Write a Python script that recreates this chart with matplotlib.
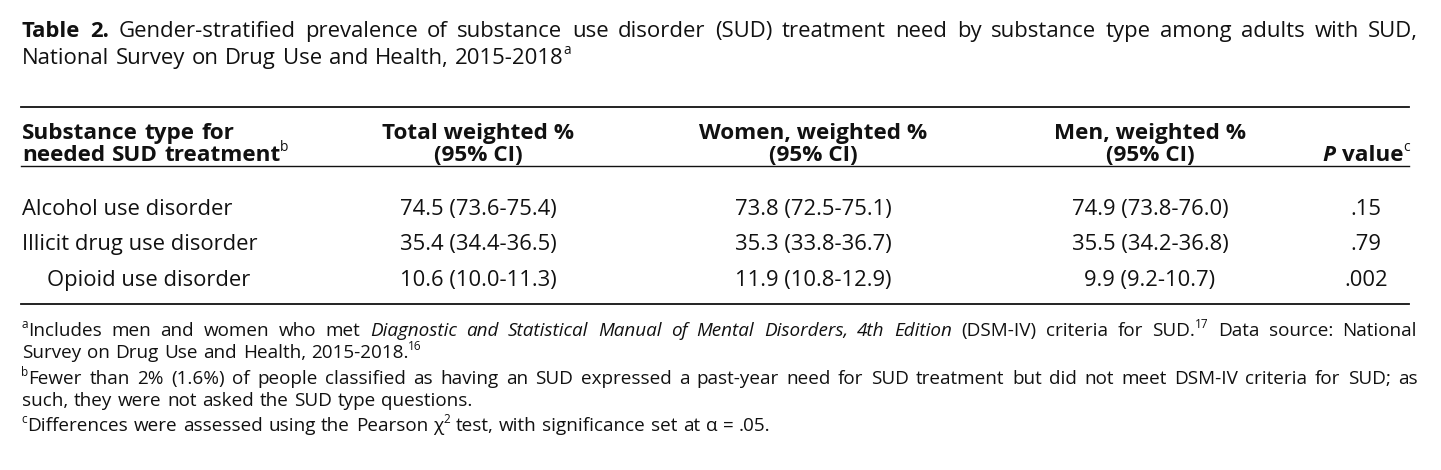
import matplotlib
matplotlib.use("Agg")
import matplotlib.pyplot as plt

# ---------------- data ----------------
categories = ["Alcohol use disorder", "Illicit drug use disorder", "Opioid use disorder"]
indent_level = [0, 0, 1]
total_pct = [74.5, 35.4, 10.6]
total_lo = [73.6, 34.4, 10.0]
total_hi = [75.4, 36.5, 11.3]
women_pct = [73.8, 35.3, 11.9]
women_lo = [72.5, 33.8, 10.8]
women_hi = [75.1, 36.7, 12.9]
men_pct = [74.9, 35.5, 9.9]
men_lo = [73.8, 34.2, 9.2]
men_hi = [76.0, 36.8, 10.7]
p_values = [".15", ".79", ".002"]

W, H, DPI = 1441, 470, 100
FONT = "Open Sans"
fig = plt.figure(figsize=(W / DPI, H / DPI), dpi=DPI)
fig.patch.set_facecolor("white")
renderer = fig.canvas.get_renderer()

def fx(x):
    return x / W

def fy(y):
    return 1 - y / H

def mk(text, x, y, size, weight="normal", style="normal", ha="left"):
    return fig.text(fx(x), fy(y), text, fontsize=size, fontweight=weight,
                    fontstyle=style, family=FONT, ha=ha, va="baseline",
                    color="#111111")

def width_of(t):
    return t.get_window_extent(renderer=renderer).width

def space_width(size):
    a = mk("a a", 0, 0, size)
    b = mk("aa", 0, 0, size)
    w = width_of(a) - width_of(b)
    a.remove()
    b.remove()
    return w

def runs_draw(runs, x, y, size, justify_to=None, right_to=None):
    """runs: list of (text, kind) kind in 'r','b','i','bi','sup'"""
    tokens = []
    for text, kind in runs:
        if kind == "sup":
            tokens.append((text, kind, False))
            continue
        parts = text.split(" ")
        for k, p in enumerate(parts):
            if k > 0:
                tokens.append((" ", kind, True))
            if p:
                tokens.append((p, kind, False))
    objs = []
    for text, kind, is_space in tokens:
        if is_space:
            objs.append(("space", None, kind))
            continue
        s = size * 0.62 if kind == "sup" else size
        weight = "bold" if "b" in kind else "normal"
        style = "italic" if "i" in kind else "normal"
        yy = y - (size * 0.6 if kind == "sup" else 0)
        t = mk(text, 0, yy, s, weight, style)
        objs.append(("word", t, kind))
    sw_nat = space_width(size) * 1.15
    words_w = sum(width_of(o[1]) for o in objs if o[0] == "word")
    n_space = sum(1 for o in objs if o[0] == "space")
    if justify_to is not None and n_space > 0:
        sw = (justify_to - x - words_w) / n_space
    else:
        sw = sw_nat
    if right_to is not None:
        x = right_to - (words_w + n_space * sw)
    cx = x
    for kind, t, k in objs:
        if kind == "space":
            cx += sw
        else:
            if k == "sup":
                cx -= 0.5
            t.set_x(fx(cx))
            cx += width_of(t)
    return cx

# ---------------- title ----------------
TS = 15.9
runs_draw([("Table 2.", "b"),
           (" Gender-stratified prevalence of substance use disorder (SUD) treatment need by substance type among adults with SUD,", "r")],
          22, 37, TS, justify_to=1418)
runs_draw([("National Survey on Drug Use and Health, 2015-2018", "r"), ("a", "sup")], 22, 64, TS)

# ---------------- rules ----------------
L, R = 21, 1409
for yy, lw in [(107, 1.3), (166, 1.0), (304, 1.3)]:
    fig.add_artist(plt.Line2D([fx(L), fx(R)], [fy(yy), fy(yy)], color="#111111", lw=lw))

# ---------------- header ----------------
HS = 16.2
col_total, col_women, col_men, col_p = 478, 813, 1150, 1366
runs_draw([("Substance type for", "b")], 22, 139, HS)
runs_draw([("needed SUD treatment", "b"), ("b", "sup")], 22, 161, HS)
for cx, lab in [(col_total, "Total weighted %"), (col_women, "Women, weighted %"), (col_men, "Men, weighted %")]:
    mk(lab, cx, 139, HS, weight="bold", ha="center")
    mk("(95% CI)", cx, 161, HS, weight="bold", ha="center")
runs_draw([("P", "bi"), (" value", "b"), ("c", "sup")], 1334, 161, HS, right_to=1410)

# ---------------- body ----------------
BS = 15.8
row_y = [215, 250, 286]
for i, cat in enumerate(categories):
    y = row_y[i]
    mk(cat, 22 + 25 * indent_level[i], y, BS)
    mk(f"{total_pct[i]:.1f} ({total_lo[i]:.1f}-{total_hi[i]:.1f})", col_total, y, BS, ha="center")
    mk(f"{women_pct[i]:.1f} ({women_lo[i]:.1f}-{women_hi[i]:.1f})", col_women, y, BS, ha="center")
    mk(f"{men_pct[i]:.1f} ({men_lo[i]:.1f}-{men_hi[i]:.1f})", col_men, y, BS, ha="center")
    mk(p_values[i], col_p, y, BS, ha="center")

# ---------------- footnotes ----------------
FS = 13.6
runs_draw([("a", "sup"), ("Includes men and women who met ", "r"),
           ("Diagnostic and Statistical Manual of Mental Disorders, 4th Edition", "i"),
           (" (DSM-IV) criteria for SUD.", "r"), ("17", "sup"),
           (" Data source: National", "r")], 22, 336, FS, justify_to=1418)
runs_draw([("Survey on Drug Use and Health, 2015-2018.", "r"), ("16", "sup")], 22, 358, FS)
runs_draw([("b", "sup"), ("Fewer than 2% (1.6%) of people classified as having an SUD expressed a past-year need for SUD treatment but did not meet DSM-IV criteria for SUD; as", "r")],
          22, 384, FS, justify_to=1418)
runs_draw([("such, they were not asked the SUD type questions.", "r")], 22, 406, FS)
runs_draw([("c", "sup"), ("Differences were assessed using the Pearson ", "r"), ("\u03c7", "r"), ("2", "sup"),
           (" test, with significance set at ", "r"), ("\u03b1", "r"), (" = .05.", "r")], 22, 431, FS)

fig.savefig("out.png", dpi=DPI, facecolor="white")
